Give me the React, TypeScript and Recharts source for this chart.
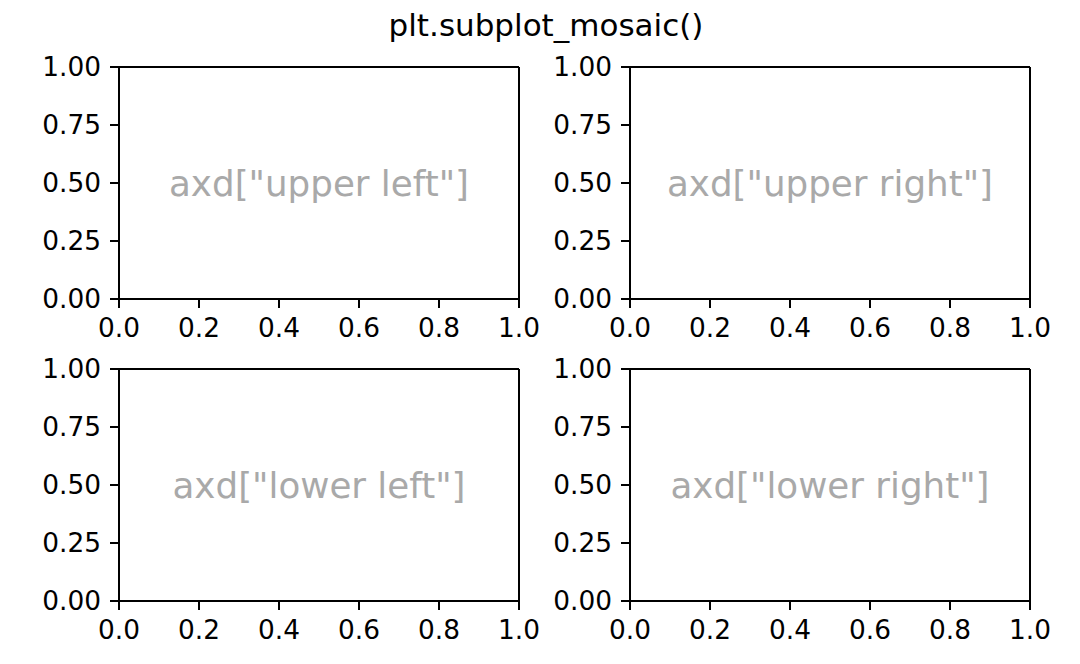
import React from "react";
import { ScatterChart, Scatter, XAxis, YAxis } from "recharts";

const panelNames = ['axd["upper left"]', 'axd["upper right"]', 'axd["lower left"]', 'axd["lower right"]'];
const xTicks = [0, 0.2, 0.4, 0.6, 0.8, 1.0];
const yTicks = [0, 0.25, 0.5, 0.75, 1.0];
const titleText = "plt.subplot_mosaic()";

const FONT = "DejaVu Sans";

type PanelProps = {
  name: string;
  left: number;
  top: number;
  leftW: number;
  rightW: number;
  topH: number;
  bottomH: number;
};

const W = 540;
const H = 332;

function Panel({ name, left, top, leftW, rightW, topH, bottomH }: PanelProps) {
  const data = [{ x: 0.5, y: 0.5, label: name }];
  const axisLine = { stroke: "#000", strokeWidth: 2 };
  const tickStyle = { fill: "#000", fontSize: 26.4, fontFamily: FONT };
  const h = topH + 232 + bottomH;
  return (
    <div style={{ position: "absolute", left, top, width: W, height: h }}>
      <ScatterChart width={W} height={h} margin={{ top: 0, right: 0, bottom: 0, left: 0 }}>
        <XAxis
          xAxisId="b"
          type="number"
          dataKey="x"
          domain={[0, 1]}
          ticks={xTicks}
          tickFormatter={(v: number) => v.toFixed(1)}
          height={bottomH}
          axisLine={axisLine}
          tickLine={{ stroke: "#000", strokeWidth: 2 }}
          tickSize={9}
          tickMargin={10}
          tick={tickStyle}
          interval={0}
        />
        <XAxis
          xAxisId="t"
          orientation="top"
          type="number"
          domain={[0, 1]}
          height={topH}
          axisLine={axisLine}
          tick={false}
          tickLine={false}
        />
        <YAxis
          yAxisId="l"
          type="number"
          dataKey="y"
          domain={[0, 1]}
          ticks={yTicks}
          tickFormatter={(v: number) => v.toFixed(2)}
          width={leftW}
          axisLine={axisLine}
          tickLine={{ stroke: "#000", strokeWidth: 2 }}
          tickSize={9}
          tickMargin={9}
          tick={tickStyle}
          interval={0}
        />
        <YAxis
          yAxisId="r"
          orientation="right"
          type="number"
          domain={[0, 1]}
          width={rightW}
          axisLine={axisLine}
          tick={false}
          tickLine={false}
        />
        <Scatter
          xAxisId="b"
          yAxisId="l"
          data={data}
          isAnimationActive={false}
          shape={(p: any) => (
            <text
              x={p.cx}
              y={p.cy}
              textAnchor="middle"
              dominantBaseline="central"
              fill="#a9a9a9"
              fontSize={35.7}
              fontFamily={FONT}
            >
              {p.payload.label}
            </text>
          )}
        />
      </ScatterChart>
    </div>
  );
}

export default function App() {
  return (
    <div
      style={{
        position: "absolute",
        left: 0,
        top: 0,
        width: 1080,
        height: 664,
        background: "#fff",
        overflow: "hidden",
      }}
    >
      <div
        style={{
          position: "absolute",
          left: 0,
          width: 1080,
          top: 7,
          textAlign: "center",
          fontFamily: FONT,
          fontSize: 31,
          lineHeight: "36px",
          color: "#000",
          paddingLeft: 12,
          boxSizing: "border-box",
        }}
      >
        {titleText}
      </div>
      <Panel name={panelNames[0]} left={0} top={0} leftW={119} rightW={21} topH={67} bottomH={60} />
      <Panel name={panelNames[1]} left={540} top={0} leftW={90} rightW={50} topH={67} bottomH={60} />
      <Panel name={panelNames[2]} left={0} top={332} leftW={119} rightW={21} topH={37} bottomH={63} />
      <Panel name={panelNames[3]} left={540} top={332} leftW={90} rightW={50} topH={37} bottomH={63} />
    </div>
  );
}
